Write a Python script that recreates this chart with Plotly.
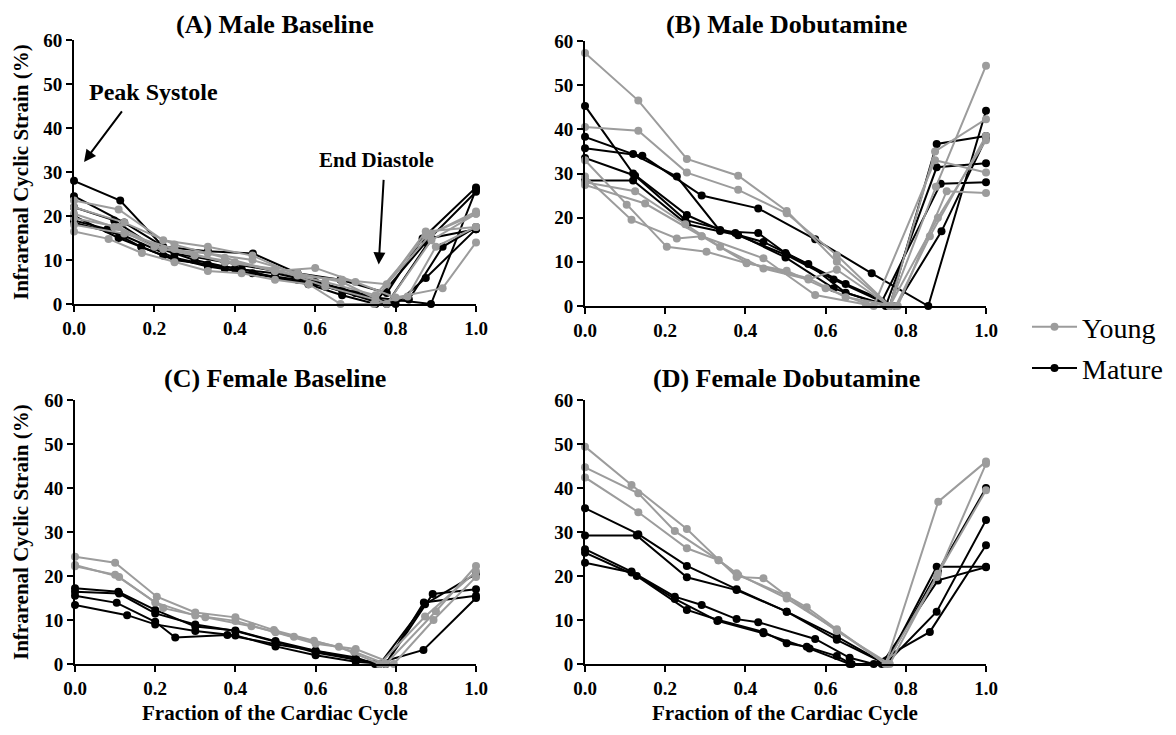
import plotly.graph_objects as go

# ---------------- data ----------------
# Panel A: Male Baseline
A_young_x = [
    [0, .111, .222, .333, .444, .556, .667, .778, .889, 1.0],
    [0, .125, .25, .375, .5, .625, .75, .875, 1.0],
    [0, .1, .2, .3, .4, .5, .6, .7, .8, .917, 1.0],
    [0, .086, .169, .25, .333, .417, .5, .584, .663, .746, .83, .9, 1.0],
    [0, .111, .222, .333, .444, .556, .667, .778, .889, 1.0],
    [0, .125, .25, .375, .5, .625, .75, .875, 1.0],
]
A_young_y = [
    [23.5, 21.5, 14.5, 13.0, 11.0, 6.5, 5.5, 4.5, 16.0, 21.0],
    [22.0, 18.5, 13.5, 10.5, 7.5, 5.0, 2.0, 15.5, 20.5],
    [20.5, 17.5, 13.0, 11.0, 9.5, 7.5, 8.2, 5.0, 1.5, 3.6, 14.0],
    [16.5, 14.8, 11.6, 9.5, 7.5, 7.0, 5.5, 4.5, 0.0, 0.0, 1.7, 13.0, 17.5],
    [19.5, 17.5, 12.5, 11.5, 10.0, 7.0, 5.0, 0.0, 14.5, 20.5],
    [18.0, 16.0, 12.5, 9.5, 8.0, 4.0, 1.0, 16.5, 17.5],
]
A_mature_x = [
    [0, .115, .222, .333, .445, .556, .663, .778, .867, 1.0],
    [0, .125, .25, .375, .5, .625, .75, .888, 1.0],
    [0, .1, .2, .3, .4, .5, .6, .7, .8, .875, 1.0],
    [0, .111, .222, .333, .444, .556, .667, .778, .889, 1.0],
    [0, .125, .25, .375, .5, .625, .75, .875, 1.0],
    [0, .083, .167, .25, .333, .417, .5, .583, .667, .75, .833, .917, 1.0],
]
A_mature_y = [
    [28.0, 23.5, 13.0, 12.0, 11.5, 7.0, 5.5, 2.5, 14.9, 26.5],
    [24.5, 18.5, 11.5, 9.5, 7.5, 4.5, 1.5, 0.0, 26.0],
    [22.0, 19.0, 13.0, 10.0, 8.0, 7.0, 5.0, 2.5, 0.0, 5.9, 17.0],
    [20.0, 15.0, 11.0, 8.5, 7.0, 5.5, 3.0, 0.0, 15.0, 17.0],
    [18.5, 15.5, 10.5, 8.0, 6.0, 4.0, 0.5, 14.0, 25.5],
    [19.0, 17.0, 13.0, 10.0, 9.0, 8.0, 6.0, 4.5, 2.0, 0.0, 1.0, 13.0, 17.5],
]

# Panel B: Male Dobutamine
B_young_x = [
    [0, .133, .254, .382, .503, .628, .76, .875, 1.0],
    [0, .133, .254, .382, .503, .628, .76, .873, 1.0],
    [0, .104, .204, .303, .403, .503, .6, .7, .78, .902, 1.0],
    [0, .116, .229, .291, .403, .557, .65, .775, .86, 1.0],
    [0, .15, .291, .445, .574, .72, .873, 1.0],
    [0, .125, .25, .337, .445, .557, .628, .76, .88, 1.0],
]
B_young_y = [
    [57.3, 46.5, 33.3, 29.5, 21.5, 10.0, 0.0, 27.0, 54.4],
    [40.5, 39.7, 30.2, 26.3, 21.0, 11.5, 0.0, 35.0, 42.3],
    [33.0, 22.9, 13.4, 12.3, 9.7, 8.0, 4.0, 0.5, 0.0, 26.0, 25.6],
    [29.3, 19.5, 15.3, 15.8, 9.8, 6.3, 2.0, 0.0, 15.8, 38.5],
    [27.4, 23.2, 15.8, 10.8, 2.5, 0.0, 33.0, 30.2],
    [28.0, 26.0, 18.5, 13.4, 8.5, 6.0, 8.2, 0.0, 20.0, 37.5],
]
B_mature_x = [
    [0, .143, .291, .432, .574, .715, .856, 1.0],
    [0, .12, .254, .337, .445, .557, .65, .76, .877, 1.0],
    [0, .12, .229, .337, .432, .5, .65, .775, .889, 1.0],
    [0, .125, .25, .375, .5, .62, .75, .877, 1.0],
    [0, .12, .254, .382, .503, .62, .74, .887, 1.0],
]
B_mature_y = [
    [35.7, 34.0, 25.0, 22.1, 15.1, 7.4, 0.0, 44.2],
    [45.3, 30.0, 20.6, 17.2, 14.5, 9.5, 3.0, 0.0, 36.7, 38.5],
    [38.3, 34.4, 29.3, 17.0, 16.5, 12.0, 5.0, 0.0, 16.9, 38.0],
    [33.5, 29.5, 19.5, 16.5, 11.0, 4.0, 0.0, 31.4, 32.3],
    [28.4, 28.4, 18.5, 16.0, 11.5, 6.0, 1.0, 27.7, 28.0],
]

# Panel C: Female Baseline
C_young_x = [
    [0, .1, .204, .3, .4, .496, .596, .696, .775, .9, 1.0],
    [0, .11, .22, .325, .44, .546, .658, .76, .873, 1.0],
    [0, .1, .2, .3, .4, .5, .6, .7, .795, .894, 1.0],
]
C_young_y = [
    [24.4, 23.0, 15.3, 11.7, 10.6, 7.7, 5.3, 2.8, 0.0, 12.0, 22.3],
    [22.5, 19.8, 12.7, 10.6, 8.6, 6.2, 3.9, 0.0, 10.8, 21.0],
    [22.2, 20.3, 14.0, 11.0, 9.8, 7.2, 4.6, 3.4, 0.0, 10.0, 19.8],
]
C_mature_x = [
    [0, .108, .2, .3, .4, .5, .6, .7, .775, .892, 1.0],
    [0, .11, .2, .3, .4, .5, .6, .7, .76, .873, 1.0],
    [0, .104, .2, .25, .38, .5, .6, .7, .748, .869, 1.0],
    [0, .13, .2, .3, .4, .5, .6, .7, .775, .87, 1.0],
]
C_mature_y = [
    [17.2, 16.4, 12.3, 8.5, 7.6, 5.2, 3.0, 1.0, 0.0, 15.9, 17.0],
    [16.4, 16.0, 11.5, 9.0, 7.5, 5.0, 2.6, 1.0, 0.0, 13.6, 20.5],
    [15.5, 13.9, 9.6, 6.0, 6.6, 4.5, 3.0, 1.5, 0.0, 3.2, 15.0],
    [13.4, 11.1, 9.0, 7.5, 6.5, 4.0, 2.0, 0.5, 0.0, 14.0, 15.5],
]

# Panel D: Female Dobutamine
D_young_x = [
    [0, .116, .254, .378, .445, .503, .553, .628, .75, .877, 1.0],
    [0, .133, .224, .333, .378, .503, .628, .75, .881, 1.0],
    [0, .133, .254, .333, .382, .503, .628, .76, .88, 1.0],
]
D_young_y = [
    [49.4, 40.7, 30.7, 19.8, 19.5, 15.5, 12.9, 7.9, 0.0, 19.8, 45.5],
    [44.7, 38.8, 30.2, 23.6, 20.6, 14.9, 7.7, 0.0, 36.9, 46.0],
    [42.4, 34.5, 26.3, 23.6, 20.2, 15.5, 7.5, 0.0, 20.5, 39.5],
]
D_mature_x = [
    [0, .133, .254, .378, .503, .628, .75, .88, 1.0],
    [0, .129, .254, .378, .503, .628, .75, .877, 1.0],
    [0, .116, .224, .291, .378, .432, .574, .66, .72, .86, 1.0],
    [0, .129, .254, .333, .445, .503, .553, .628, .665, .75, .877, 1.0],
    [0, .116, .224, .33, .445, .56, .66, .74, .88, 1.0],
]
D_mature_y = [
    [35.4, 29.5, 22.3, 17.0, 11.9, 6.2, 0.0, 21.0, 40.0],
    [29.2, 29.2, 19.7, 16.8, 11.9, 5.5, 0.0, 22.1, 22.1],
    [26.1, 21.0, 15.3, 13.4, 10.2, 9.5, 5.7, 1.4, 0.0, 7.3, 27.0],
    [25.3, 20.0, 12.3, 10.0, 7.3, 4.7, 3.9, 1.8, 0.0, 0.0, 11.9, 32.7],
    [23.0, 20.8, 14.8, 9.8, 7.0, 3.5, 0.0, 0.0, 19.0, 22.0],
]

panel_titles = ["(A) Male Baseline", "(B) Male Dobutamine",
                "(C) Female Baseline", "(D) Female Dobutamine"]
x_ticks = [0.0, 0.2, 0.4, 0.6, 0.8, 1.0]
y_ticks = [0, 10, 20, 30, 40, 50, 60]

# ---------------- figure ----------------
OFF = 8                      # page body margin
W, H = 1176 - 2 * OFF, 735 - 2 * OFF
GRAY = "#9c9c9c"
BLACK = "#000000"
SERIF = "Liberation Serif"

panels = [
    (A_young_x, A_young_y, A_mature_x, A_mature_y, "x", "y"),
    (B_young_x, B_young_y, B_mature_x, B_mature_y, "x2", "y2"),
    (C_young_x, C_young_y, C_mature_x, C_mature_y, "x3", "y3"),
    (D_young_x, D_young_y, D_mature_x, D_mature_y, "x4", "y4"),
]

fig = go.Figure()
first_m = True
first_y = True
for yx, yy, mx, my, xa, ya in panels:
    for xs, ys in zip(mx, my):
        fig.add_trace(go.Scatter(
            x=xs, y=ys, xaxis=xa, yaxis=ya, mode="lines+markers",
            line=dict(color=BLACK, width=2), marker=dict(color=BLACK, size=8),
            name="Mature", legendgroup="Mature", showlegend=first_m,
            legendrank=2, cliponaxis=False))
        first_m = False
    for xs, ys in zip(yx, yy):
        fig.add_trace(go.Scatter(
            x=xs, y=ys, xaxis=xa, yaxis=ya, mode="lines+markers",
            line=dict(color=GRAY, width=2), marker=dict(color=GRAY, size=8),
            name="Young", legendgroup="Young", showlegend=first_y,
            legendrank=1, cliponaxis=False))
        first_y = False


def px_x(p):
    return (p - OFF) / W


def px_y(p):
    return 1 - (p - OFF) / H


axis_common = dict(showline=True, linecolor="black", linewidth=2, ticks="outside",
                   ticklen=6, tickwidth=2, tickcolor="black", showgrid=False,
                   zeroline=False, automargin=False,
                   tickfont=dict(family=SERIF, size=19, color="black", weight="bold"))

doms = {
    "": ([px_x(74), px_x(476)], [px_y(304), px_y(40)]),
    "2": ([px_x(585), px_x(986)], [px_y(306), px_y(41)]),
    "3": ([px_x(75), px_x(476)], [px_y(664), px_y(400)]),
    "4": ([px_x(585), px_x(986)], [px_y(664), px_y(400)]),
}
layout_axes = {}
for k, (xd, yd) in doms.items():
    layout_axes["xaxis" + k] = dict(axis_common, domain=xd, range=[0, 1],
                                    tickvals=x_ticks, tickformat=".1f",
                                    anchor="y" + k)
    layout_axes["yaxis" + k] = dict(axis_common, domain=yd, range=[0, 60],
                                    tickvals=y_ticks, anchor="x" + k)

annotations = []
# top-row titles anchored at the top edge, bottom-row titles centred
title_pos = [(275, 1.0, "top"), (786, 1.0, "top"),
             (275, px_y(378), "middle"), (786, px_y(378), "middle")]
for t, (cx, ypos, anc) in zip(panel_titles, title_pos):
    annotations.append(dict(text=t, x=px_x(cx), y=ypos, xref="paper", yref="paper",
                            showarrow=False, xanchor="center", yanchor=anc,
                            font=dict(family=SERIF, size=26, color="black", weight="bold")))
for cy in (172, 532):
    annotations.append(dict(text="Infrarenal Cyclic Strain (%)", x=px_x(21), y=px_y(cy),
                            xref="paper", yref="paper", showarrow=False, textangle=-90,
                            xanchor="center", yanchor="middle",
                            font=dict(family=SERIF, size=21, color="black", weight="bold")))
for cx in (275, 785):
    annotations.append(dict(text="Fraction of the Cardiac Cycle", x=px_x(cx), y=px_y(713),
                            xref="paper", yref="paper", showarrow=False,
                            xanchor="center", yanchor="middle",
                            font=dict(family=SERIF, size=21, color="black", weight="bold")))
# Peak Systole / End Diastole labels and arrows
annotations.append(dict(text="Peak Systole", x=px_x(153), y=px_y(92), xref="paper",
                        yref="paper", showarrow=False, xanchor="center", yanchor="middle",
                        font=dict(family=SERIF, size=24, color="black", weight="bold")))
annotations.append(dict(text="", x=0.025, y=32.3, xref="x", yref="y", showarrow=True,
                        ax=39, ay=-52, arrowhead=2, arrowsize=1.2, arrowwidth=2,
                        arrowcolor="black"))
annotations.append(dict(text="End Diastole", x=px_x(376), y=px_y(160), xref="paper",
                        yref="paper", showarrow=False, xanchor="center", yanchor="middle",
                        font=dict(family=SERIF, size=21, color="black", weight="bold")))
annotations.append(dict(text="", x=0.758, y=9.0, xref="x", yref="y", showarrow=True,
                        ax=5, ay=-86, arrowhead=2, arrowsize=1.2, arrowwidth=2,
                        arrowcolor="black"))

fig.update_layout(
    width=W, height=H, margin=dict(l=0, r=0, t=0, b=0, autoexpand=False),
    paper_bgcolor="white", plot_bgcolor="white",
    showlegend=True,
    legend=dict(x=px_x(1027), y=px_y(302), xanchor="left", yanchor="top",
                font=dict(family=SERIF, size=28, color="black"),
                bgcolor="rgba(0,0,0,0)", tracegroupgap=2, itemwidth=45),
    annotations=annotations,
    **layout_axes,
)

fig.write_html("out.html")
